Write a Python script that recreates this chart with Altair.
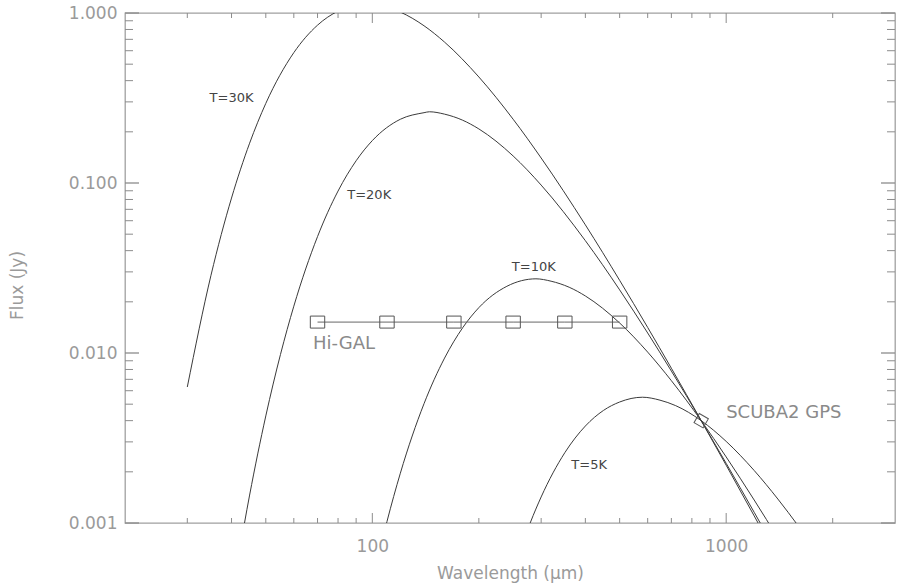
import altair as alt
import pandas as pd

# ---- data -------------------------------------------------------------------
wl_30 = [30, 35, 40, 45, 50, 60, 70, 80, 90, 100, 110, 120, 140, 160, 200, 250,
         300, 400, 500, 600, 700, 850, 1000, 1200, 1250, 1300]
f_30 = [0.00631, 0.02867, 0.08155, 0.1715, 0.2940, 0.5846, 0.8480, 1.0256, 1.1106,
        1.1211, 1.0815, 1.0124, 0.8412, 0.6742, 0.4205, 0.2372, 0.1403, 0.05672,
        0.02675, 0.01414, 0.008137, 0.004, 0.002187, 0.001101, 0.000943, 0.000812]

wl_20 = [42, 45, 50, 55, 60, 70, 80, 90, 100, 120, 140, 145, 160, 180, 200, 250,
         300, 400, 500, 600, 700, 850, 1000, 1200, 1300]
f_20 = [0.000658, 0.00146, 0.004265, 0.009795, 0.018855, 0.04837, 0.08966, 0.13517,
        0.17759, 0.23712, 0.2592, 0.2624, 0.2541, 0.23408, 0.20803, 0.14424, 0.09722,
        0.04578, 0.02351, 0.013113, 0.007832, 0.004, 0.002243, 0.001156, 0.000861]

wl_10 = [105, 110, 120, 140, 160, 180, 200, 240, 290, 320, 360, 400, 500, 600, 700,
         850, 1000, 1200, 1300, 1400]
f_10 = [0.00069, 0.00102, 0.001963, 0.005036, 0.009333, 0.01407, 0.018486, 0.024682,
        0.02731, 0.026446, 0.024366, 0.021655, 0.015014, 0.01012, 0.006875, 0.004,
        0.002447, 0.001365, 0.001047, 0.000815]

wl_5 = [260, 280, 300, 350, 400, 450, 500, 580, 650, 720, 850, 1000, 1200, 1400,
        1600, 1700]
f_5 = [0.000665, 0.001013, 0.001423, 0.002593, 0.003719, 0.004594, 0.005149,
       0.005494, 0.005279, 0.004901, 0.004, 0.00302, 0.002036, 0.001383, 0.000959,
       0.000805]

higal_wl = [70, 110, 170, 250, 350, 500]
higal_flux = [0.0152, 0.0152, 0.0152, 0.0152, 0.0152, 0.0152]

scuba_wl = [850]
scuba_flux = [0.004]

curve_labels = ["T=30K", "T=20K", "T=10K", "T=5K"]
curve_label_wl = [40, 98, 286, 410]
curve_label_flux = [0.317, 0.0846, 0.0319, 0.00218]

note_labels = ["Hi-GAL", "SCUBA2 GPS"]
note_label_wl = [68, 1000]
note_label_flux = [0.01137, 0.00442]

x_major = [100, 1000]
x_minor = [30, 40, 50, 60, 70, 80, 90, 200, 300, 400, 500, 600, 700, 800, 900, 2000]
y_major = [0.001, 0.01, 0.1, 1.0]
y_minor = [0.002, 0.003, 0.004, 0.005, 0.006, 0.007, 0.008, 0.009,
           0.02, 0.03, 0.04, 0.05, 0.06, 0.07, 0.08, 0.09,
           0.2, 0.3, 0.4, 0.5, 0.6, 0.7, 0.8, 0.9]

# ---- tables -----------------------------------------------------------------
rows = []
for name, wl, fl in [("30K", wl_30, f_30), ("20K", wl_20, f_20),
                     ("10K", wl_10, f_10), ("5K", wl_5, f_5)]:
    for w, f in zip(wl, fl):
        rows.append({"T": name, "wl": w, "flux": f})
curves = pd.DataFrame(rows)
higal = pd.DataFrame({"wl": higal_wl, "flux": higal_flux})
scuba = pd.DataFrame({"wl": scuba_wl, "flux": scuba_flux})
clab = pd.DataFrame({"txt": curve_labels, "wl": curve_label_wl, "flux": curve_label_flux})
nlab = pd.DataFrame({"txt": note_labels, "wl": note_label_wl, "flux": note_label_flux})
xmaj = pd.DataFrame({"v": x_major})
xmin = pd.DataFrame({"v": x_minor})
ymaj = pd.DataFrame({"v": y_major})
ymin = pd.DataFrame({"v": y_minor})

W, H = 770, 510
GRAY = "#9a9a9a"
FONT = "DejaVu Sans"

xs = alt.Scale(type="log", domain=[20, 3000], nice=False)
ys = alt.Scale(type="log", domain=[0.001, 1.0], nice=False)

x_axis = alt.Axis(values=x_major, format="d", ticks=False, domain=False, grid=False,
                  labelFontSize=17, labelColor=GRAY, labelPadding=15, labelFont=FONT,
                  labelFlush=False,
                  title="Wavelength (μm)", titleFontSize=17, titleColor=GRAY,
                  titleFont=FONT, titleFontWeight="normal", titleY=50,
                  titleBaseline="middle")
y_axis = alt.Axis(values=y_major, format=".3f", ticks=False, domain=False, grid=False,
                  labelFontSize=17, labelColor=GRAY, labelPadding=8, labelFont=FONT,
                  labelFlush=False,
                  title="Flux (Jy)", titleFontSize=17, titleColor=GRAY, titleFont=FONT,
                  titleFontWeight="normal", titleX=-108, titleY=272,
                  titleBaseline="middle", titleAngle=270)

base_axes = alt.Chart(ymaj).mark_point(opacity=0).encode(
    x=alt.value(0), y=alt.Y("v:Q", scale=ys, axis=y_axis))
base_x = alt.Chart(xmaj).mark_point(opacity=0).encode(
    x=alt.X("v:Q", scale=xs, axis=x_axis), y=alt.value(0))

lines = alt.Chart(curves).mark_line(clip=True, interpolate="monotone",
                                     color="#3a3a3a", strokeWidth=1).encode(
    x=alt.X("wl:Q", scale=xs), y=alt.Y("flux:Q", scale=ys), detail="T:N")

higal_line = alt.Chart(higal).mark_line(color="#666", strokeWidth=1).encode(
    x=alt.X("wl:Q", scale=xs), y=alt.Y("flux:Q", scale=ys))
higal_pts = alt.Chart(higal).mark_point(
    shape="M-1.2,-1L1.2,-1L1.2,1L-1.2,1Z", size=144, filled=False,
    color="#555", strokeWidth=1, opacity=1).encode(
    x=alt.X("wl:Q", scale=xs), y=alt.Y("flux:Q", scale=ys))
scuba_pt = alt.Chart(scuba).mark_point(
    shape="square", angle=30, size=110, filled=False,
    color="#555", strokeWidth=1, opacity=1).encode(
    x=alt.X("wl:Q", scale=xs), y=alt.Y("flux:Q", scale=ys))

clabels = alt.Chart(clab).mark_text(font=FONT, fontSize=13, color="#444",
                                    align="center", baseline="middle").encode(
    x=alt.X("wl:Q", scale=xs), y=alt.Y("flux:Q", scale=ys), text="txt:N")
nlabels = alt.Chart(nlab).mark_text(font=FONT, fontSize=18, color="#8a8a8a",
                                    align="left", baseline="middle").encode(
    x=alt.X("wl:Q", scale=xs), y=alt.Y("flux:Q", scale=ys), text="txt:N")

TC = "#8c8c8c"
ticks = [
    alt.Chart(xmaj).mark_rule(color=TC).encode(x=alt.X("v:Q", scale=xs), y=alt.value(H), y2=alt.value(H - 10)),
    alt.Chart(xmin).mark_rule(color=TC).encode(x=alt.X("v:Q", scale=xs), y=alt.value(H), y2=alt.value(H - 5)),
    alt.Chart(xmaj).mark_rule(color=TC).encode(x=alt.X("v:Q", scale=xs), y=alt.value(0), y2=alt.value(10)),
    alt.Chart(xmin).mark_rule(color=TC).encode(x=alt.X("v:Q", scale=xs), y=alt.value(0), y2=alt.value(5)),
    alt.Chart(ymaj).mark_rule(color=TC, strokeWidth=1.3).encode(y=alt.Y("v:Q", scale=ys), x=alt.value(0), x2=alt.value(14)),
    alt.Chart(ymin).mark_rule(color=TC).encode(y=alt.Y("v:Q", scale=ys), x=alt.value(0), x2=alt.value(8)),
    alt.Chart(ymaj).mark_rule(color=TC, strokeWidth=1.3).encode(y=alt.Y("v:Q", scale=ys), x=alt.value(W), x2=alt.value(W - 14)),
    alt.Chart(ymin).mark_rule(color=TC).encode(y=alt.Y("v:Q", scale=ys), x=alt.value(W), x2=alt.value(W - 8)),
]

chart = alt.layer(base_axes, base_x, *ticks, lines, higal_line, higal_pts, scuba_pt,
                  clabels, nlabels).properties(
    width=W, height=H,
    autosize=alt.AutoSizeParams(type="none"),
    padding={"left": 125, "top": 13, "right": 10, "bottom": 61},
    background="white",
).configure_view(stroke="#a0a0a0", strokeWidth=1.3)

chart.save("out.html", embed_options={"renderer": "svg", "actions": False})
